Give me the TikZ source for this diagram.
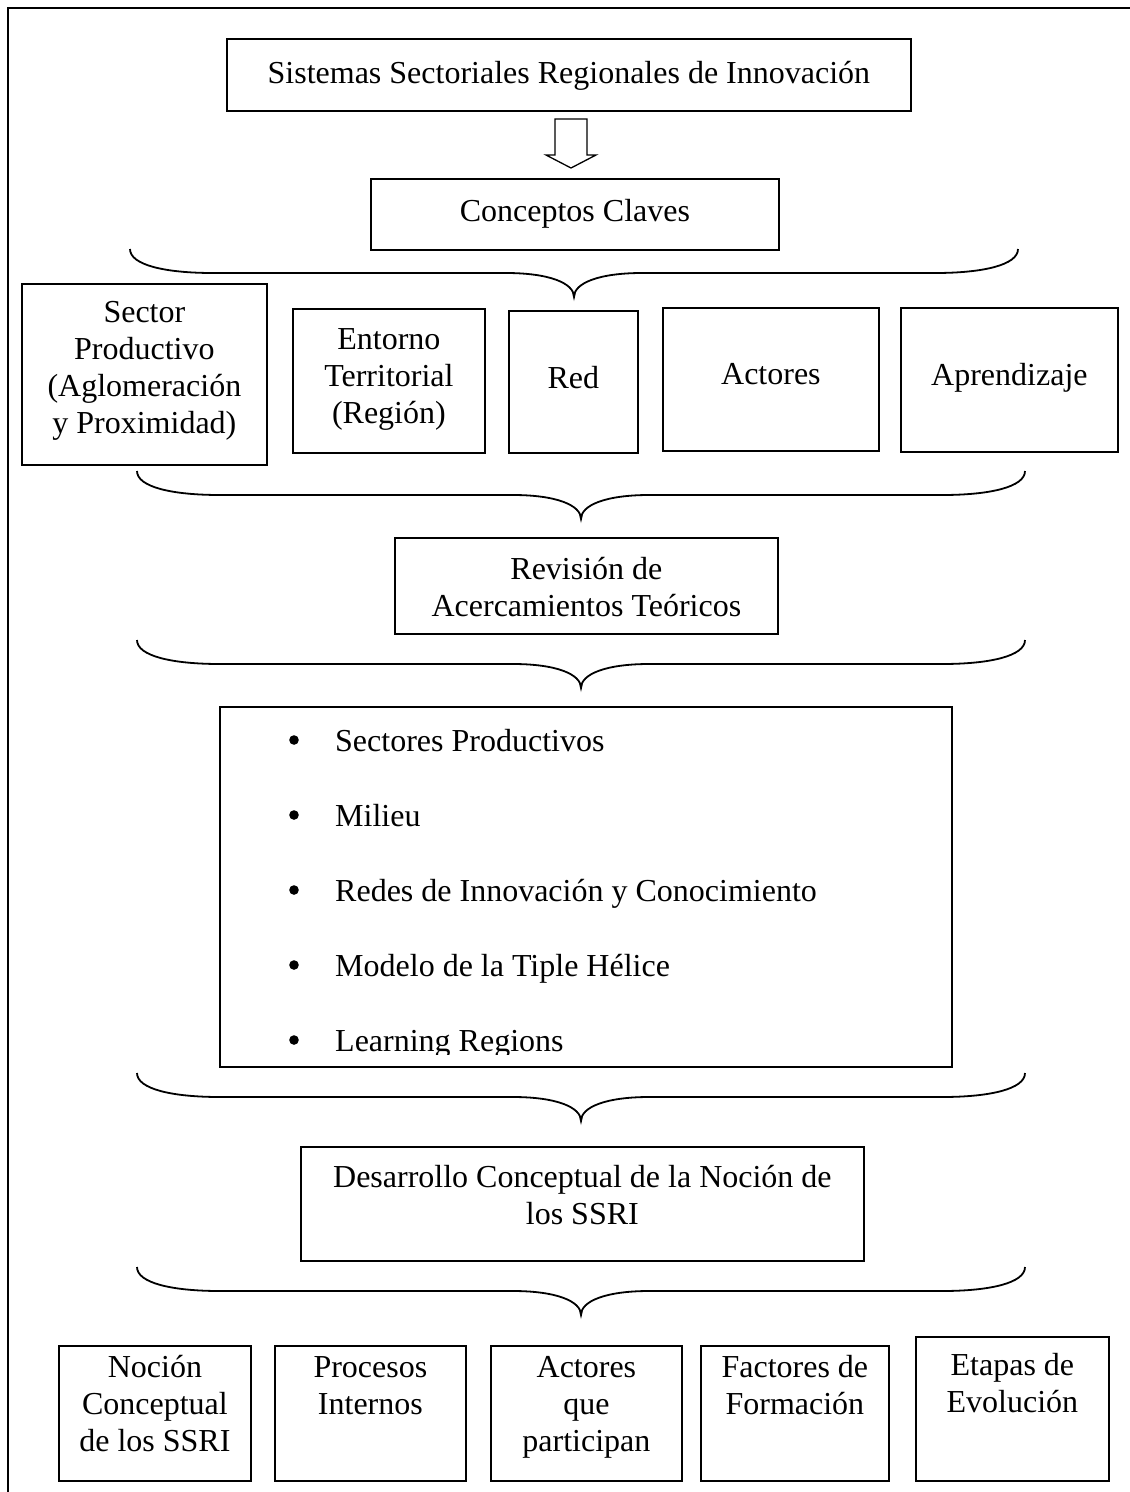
\documentclass[tikz,border=0pt]{standalone}
\usepackage{fontspec}
\setmainfont{Liberation Serif}

% text block of fixed size, first baseline at a given depth below the top
\newcommand\cellbox[4]{\parbox[c][#2pt][t]{#1pt}{\centering\rule{0pt}{#3pt}#4}}

% horizontal curly brace opening upwards, tip pointing down
% #1 left x, #2 right x, #3 top y
\newcommand\curlyb[3]{%
  \pgfmathsetmacro\bmid{(#1+#2)/2}%
  \draw[brace] (#1,#3) .. controls (#1,{#3+16}) and ({#1+35},{#3+24}) .. ({#1+83},{#3+24})
    -- ({\bmid-68},{#3+24}) .. controls ({\bmid-25},{#3+24}) and (\bmid,{#3+34}) .. (\bmid,{#3+48})
    .. controls (\bmid,{#3+34}) and ({\bmid+25},{#3+24}) .. ({\bmid+68},{#3+24})
    -- ({#2-83},{#3+24}) .. controls ({#2-35},{#3+24}) and (#2,{#3+16}) .. (#2,#3);}

\begin{document}
\begin{tikzpicture}[x=1pt,y=-1pt,
  box/.style={draw, line width=1.8pt, inner sep=0pt, anchor=north west,
              font=\fontsize{32}{37}\selectfont},
  item/.style={anchor=base west, inner sep=0pt, font=\fontsize{32}{37}\selectfont},
  brace/.style={line width=1.8pt},
  frame/.style={line width=2pt},
  hollow/.style={line width=1.3pt, line join=miter}]
\useasboundingbox (0,0) rectangle (1130,1492);

% page frame (top and left edges)
\draw[frame] (1131,8) -- (8,8) -- (8,1493);

% title and key concepts
\node[box] (ssri) at (226,38) {\cellbox{684}{72}{45}{Sistemas Sectoriales Regionales de Innovación}};
\node[box] (claves) at (370,178) {\cellbox{408}{71}{43}{Conceptos Claves}};

% hollow block arrow between them
\draw[hollow] (555,119) -- (587,119) -- (587,155) -- (596,155) -- (571,168)
  -- (546,155) -- (555,155) -- cycle;

\curlyb{130}{1018}{249}

% row of key concepts
\node[box] (sector) at (21,283) {\cellbox{245}{181}{39}{Sector\\Productivo\\(Aglomeración\\y Proximidad)}};
\node[box] (entorno) at (292,308) {\cellbox{192}{144}{41}{Entorno\\Territorial\\(Región)}};
\node[box] (red) at (508,310) {\cellbox{129}{142}{78}{Red}};
\node[box] (actores) at (662,307) {\cellbox{216}{143}{77}{Actores}};
\node[box] (aprend) at (900,307) {\cellbox{217}{144}{78}{Aprendizaje}};

\curlyb{137}{1025}{471}

\node[box] (revision) at (394,537) {\cellbox{383}{96}{42}{Revisión de\\Acercamientos Teóricos}};

\curlyb{137}{1025}{640}

% list of theoretical approaches
\node[box, minimum width=732pt, minimum height=360pt] (enfoques) at (219,706) {};
\begin{scope}
  \clip (219,706) rectangle (951,1054);
  \foreach \yb/\txt [count=\i] in {751/Sectores Productivos, 826/Milieu,
      901/Redes de Innovación y Conocimiento, 976/Modelo de la Tiple Hélice,
      1051/Learning Regions} {
    \fill (294,\yb-11) circle (4.8pt);
    \node[item] (item\i) at (335,\yb) {\txt};
  }
\end{scope}

\curlyb{137}{1025}{1073}

\node[box] (desarrollo) at (300,1146) {\cellbox{563}{114}{41}{Desarrollo Conceptual de la Noción de\\los SSRI}};

\curlyb{137}{1025}{1267}

% bottom row
\node[box] (nocion) at (58,1345) {\cellbox{192}{135}{32}{Noción\\Conceptual\\de los SSRI}};
\node[box] (procesos) at (274,1345) {\cellbox{191}{135}{32}{Procesos\\Internos}};
\node[box] (particip) at (490,1345) {\cellbox{191}{135}{32}{Actores\\que\\participan}};
\node[box] (factores) at (700,1345) {\cellbox{188}{135}{32}{Factores de\\Formación}};
\node[box] (etapas) at (915,1336) {\cellbox{193}{144}{39}{Etapas de\\Evolución}};
\end{tikzpicture}
\end{document}
